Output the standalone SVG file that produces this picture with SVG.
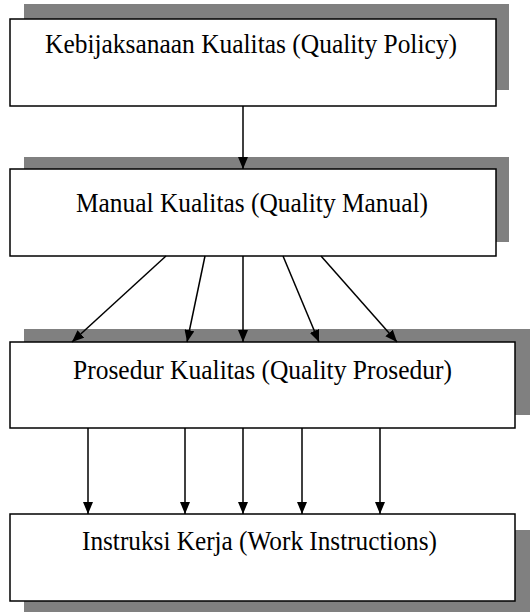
<svg xmlns="http://www.w3.org/2000/svg" width="530" height="612" viewBox="0 0 530 612">
<style>
.shadow{fill:#808080;stroke:none}
.box{fill:#ffffff;stroke:#000000;stroke-width:1.5}
.lbl{font-family:"Liberation Serif","Times New Roman",serif;font-size:27px;fill:#000000;text-anchor:middle}
.conn{stroke:#000000;stroke-width:1.5;fill:none;marker-end:url(#ah)}
</style>
<defs>
<marker id="ah" viewBox="0 0 12 10" refX="12" refY="5" markerWidth="12" markerHeight="10" markerUnits="userSpaceOnUse" orient="auto">
<path d="M0,0 L12,5 L0,10 Z" fill="#000000"/>
</marker>
</defs>
<rect x="0" y="0" width="530" height="612" fill="#ffffff"/>
<g id="node-policy">
<rect class="shadow" x="24" y="4" width="485" height="86"/>
<rect class="box" x="10" y="19" width="486" height="87"/>
<text class="lbl" x="251" y="53" textLength="412" lengthAdjust="spacingAndGlyphs">Kebijaksanaan Kualitas (Quality Policy)</text>
</g>
<g id="node-manual">
<rect class="shadow" x="24" y="157" width="485" height="85"/>
<rect class="box" x="10" y="169" width="486" height="87"/>
<text class="lbl" x="252" y="212" textLength="352" lengthAdjust="spacingAndGlyphs">Manual Kualitas (Quality Manual)</text>
</g>
<g id="node-prosedur">
<rect class="shadow" x="24" y="329" width="506" height="86"/>
<rect class="box" x="10" y="342" width="505" height="86"/>
<text class="lbl" x="262.5" y="379" textLength="379" lengthAdjust="spacingAndGlyphs">Prosedur Kualitas (Quality Prosedur)</text>
</g>
<g id="node-instruksi">
<rect class="shadow" x="24" y="530" width="506" height="82"/>
<rect class="box" x="10" y="514" width="505" height="87"/>
<text class="lbl" x="259.5" y="550" textLength="355" lengthAdjust="spacingAndGlyphs">Instruksi Kerja (Work Instructions)</text>
</g>
<g id="connectors">
<line class="conn" x1="243" y1="106" x2="243" y2="169"/>
<line class="conn" x1="166" y1="256" x2="72" y2="342"/>
<line class="conn" x1="205" y1="256" x2="187" y2="342"/>
<line class="conn" x1="243" y1="256" x2="243" y2="342"/>
<line class="conn" x1="283" y1="256" x2="319" y2="342"/>
<line class="conn" x1="321" y1="256" x2="397" y2="342"/>
<line class="conn" x1="88" y1="428" x2="88" y2="514"/>
<line class="conn" x1="185" y1="428" x2="185" y2="514"/>
<line class="conn" x1="243" y1="428" x2="243" y2="514"/>
<line class="conn" x1="302" y1="428" x2="302" y2="514"/>
<line class="conn" x1="380" y1="428" x2="380" y2="514"/>
</g>
</svg>
